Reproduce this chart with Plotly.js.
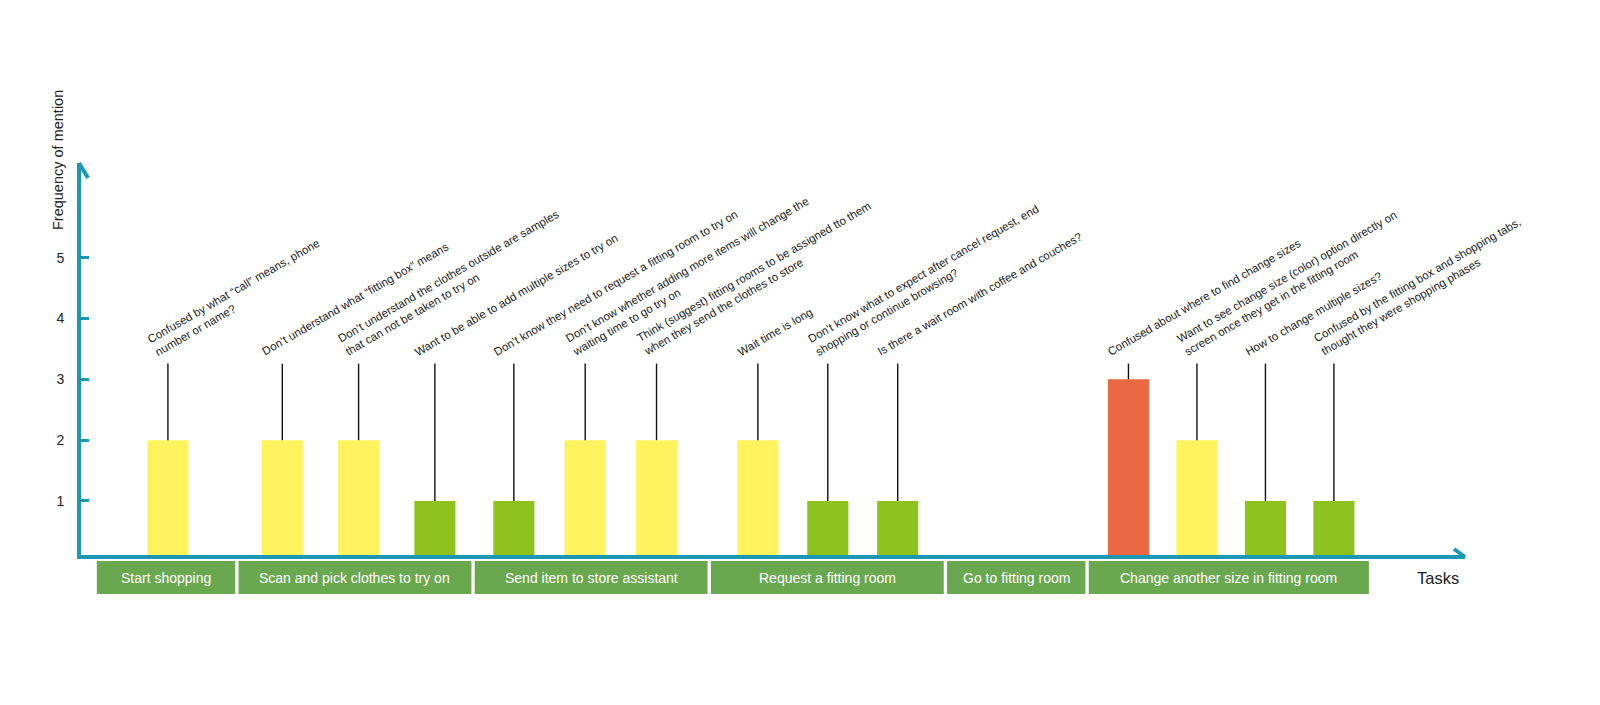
<!DOCTYPE html>
<html>
<head>
<meta charset="utf-8">
<script src="https://cdn.plot.ly/plotly-3.0.1.min.js"></script>
<style>html,body{margin:0;padding:0;background:#fff;}#chart{width:1600px;height:705px;}</style>
</head>
<body>
<div id="chart"></div>
<script>
// ---------- data ----------
const tasks = [
  "Start shopping",
  "Scan and pick clothes to try on",
  "Send item to store assistant",
  "Request a fitting room",
  "Go to fitting room",
  "Change another size in fitting room"
];
const issues = [
  "Confused by what “call” means, phone<br>number or name?",
  "Don’t understand what “fitting box” means",
  "Don’t understand the clothes outside are samples<br>that can not be taken to try on",
  "Want to be able to add multiple sizes to try on",
  "Don’t know they need to request a fitting room to try on",
  "Don’t know whether adding more items will change the<br>waiting time to go try on",
  "Think (suggest) fitting rooms to be assigned tto them<br>when they send the clothes to store",
  "Wait time is long",
  "Don’t know what to expect after cancel request, end<br>shopping or continue browsing?",
  "Is there a wait room with coffee and couches?",
  "Confused about where to find change sizes",
  "Want to see change size (color) option directly on<br>screen once they get in the fitting room",
  "How to change multiple sizes?",
  "Confused by the fitting box and shopping tabs,<br>thought they were shopping phases"
];
const issueTask = [0, 1, 1, 1, 2, 2, 2, 3, 3, 3, 5, 5, 5, 5];
const frequency = [2, 2, 2, 1, 1, 2, 2, 2, 1, 1, 3, 2, 1, 1];
const yTicks = [1, 2, 3, 4, 5];

// ---------- styling / layout constants ----------
const TASK_SPAN = [3, 5, 5, 5, 3, 6];            // width of each task box in axis units
const TASK_BAR_STEP = [1.5, 1.615, 1.51, 1.48, 1.5, 1.45];
const TASK_BAR_SHIFT = [0.04, 0.077, -0.126, 0.01, 0, 0.05];
const BAR_WIDTH = 0.87;
const STEM_TOP = 3.26;
const TEAL = "#1b98b4";
const BOX_GREEN = "#6aa84f";
const FREQ_COLORS = {1: "#8dc21f", 2: "#fff35e", 3: "#eb6942"};
const FONT = "Liberation Sans, Arial, Helvetica, sans-serif";

// task extents
const taskStart = [];
let acc = 0;
TASK_SPAN.forEach(s => { taskStart.push(acc); acc += s; });
const taskCenter = TASK_SPAN.map((s, i) => taskStart[i] + s / 2);

// bar positions: centred inside their task box
const xPos = [];
tasks.forEach((t, ti) => {
  const idx = issueTask.map((v, i) => v === ti ? i : -1).filter(i => i >= 0);
  idx.forEach((ii, k) => {
    xPos[ii] = taskCenter[ti] + TASK_BAR_SHIFT[ti] + (k - (idx.length - 1) / 2) * TASK_BAR_STEP[ti];
  });
});

const barTrace = {
  type: "bar",
  x: xPos,
  y: frequency,
  width: BAR_WIDTH,
  marker: {color: frequency.map(v => FREQ_COLORS[v]), line: {width: 0}},
  error_y: {
    type: "data", symmetric: false,
    array: frequency.map(v => STEM_TOP - v),
    arrayminus: frequency.map(() => 0),
    color: "#111", thickness: 1.4, width: 0
  },
  hoverinfo: "skip"
};

const annotations = [];
issues.forEach((txt, i) => {
  annotations.push({
    x: xPos[i], y: STEM_TOP, xref: "x", yref: "y",
    text: txt, showarrow: false, textangle: -30,
    xanchor: "left", yanchor: "bottom", align: "left",
    xshift: -25, yshift: 3,
    font: {family: FONT, size: 11.5, color: "#222"}
  });
});
const BOX_Y0 = -0.0153, BOX_Y1 = -0.0995;
const shapes = [];
tasks.forEach((t, i) => {
  shapes.push({
    type: "rect", xref: "x", yref: "paper",
    x0: taskStart[i] + 0.035, x1: taskStart[i] + TASK_SPAN[i] - 0.035,
    y0: BOX_Y0, y1: BOX_Y1,
    fillcolor: BOX_GREEN, line: {width: 0}, layer: "below"
  });
  annotations.push({
    x: taskCenter[i], y: (BOX_Y0 + BOX_Y1) / 2, xref: "x", yref: "paper",
    text: t, showarrow: false, xanchor: "center", yanchor: "middle",
    font: {family: FONT, size: 14, color: "#ffffff"}
  });
});
// axis arrow heads
shapes.push({
  type: "line", xref: "paper", yref: "paper", xsizemode: "pixel", ysizemode: "pixel",
  xanchor: 0, yanchor: 1, x0: -2, y0: 0, x1: 7, y1: -15,
  line: {color: TEAL, width: 4}
});
shapes.push({
  type: "line", xref: "paper", yref: "paper", xsizemode: "pixel", ysizemode: "pixel",
  xanchor: 1, yanchor: 0, x0: 0, y0: -2, x1: -11, y1: 6,
  line: {color: TEAL, width: 4}
});
annotations.push({
  x: -0.0166, y: 1.0077, xref: "paper", yref: "paper",
  text: "Frequency of mention", showarrow: false, textangle: -90,
  xanchor: "center", yanchor: "middle",
  font: {family: FONT, size: 14.5, color: "#222"}
});
annotations.push({
  x: 0.9805, y: -0.0587, xref: "paper", yref: "paper",
  text: "Tasks", showarrow: false, xanchor: "center", yanchor: "middle",
  font: {family: FONT, size: 16.5, color: "#222"}
});

const layout = {
  width: 1600, height: 705,
  margin: {l: 81, r: 135, t: 163, b: 150},
  paper_bgcolor: "#ffffff", plot_bgcolor: "#ffffff",
  showlegend: false,
  font: {family: FONT, color: "#222"},
  xaxis: {
    range: [-0.3, 29.0], showgrid: false, zeroline: false,
    showticklabels: false, ticks: "",
    showline: true, linecolor: TEAL, linewidth: 4, fixedrange: true
  },
  yaxis: {
    range: [0.11, 6.56], showgrid: false, zeroline: false,
    tickvals: yTicks, ticktext: yTicks.map(String),
    ticks: "inside", ticklen: 8, tickwidth: 3, tickcolor: TEAL,
    tickfont: {family: FONT, size: 14, color: "#222"},
    ticklabelstandoff: 10,
    showline: true, linecolor: TEAL, linewidth: 4, fixedrange: true
  },
  shapes: shapes,
  annotations: annotations
};

Plotly.newPlot("chart", [barTrace], layout, {displayModeBar: false, staticPlot: true});
</script>
</body>
</html>
